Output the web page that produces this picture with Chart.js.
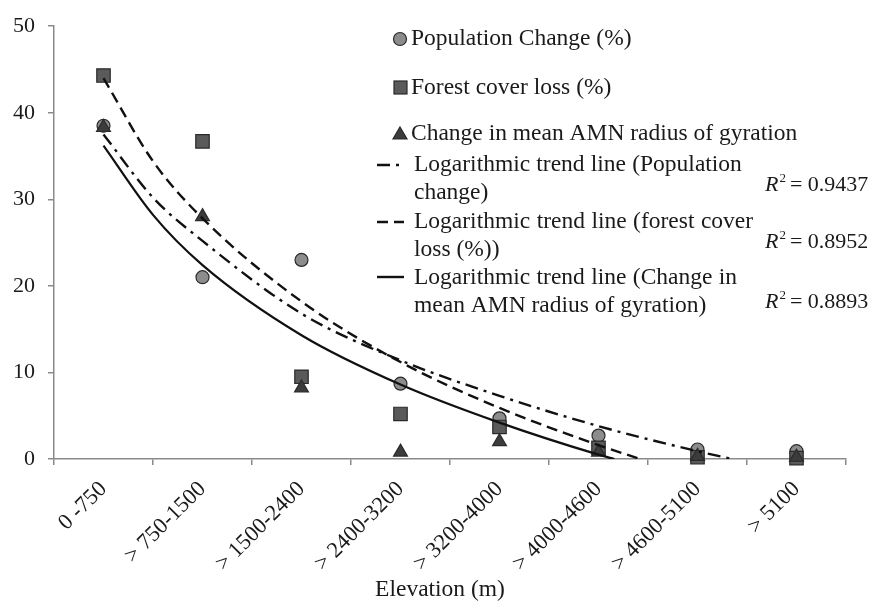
<!DOCTYPE html>
<html>
<head>
<meta charset="utf-8">
<script src="https://cdn.jsdelivr.net/npm/chart.js@4"></script>
<style>
  html, body { margin: 0; padding: 0; background: #fff; }
  #wrap { width: 869px; height: 602px; }
</style>
</head>
<body>
<div id="wrap"><canvas id="elevChart"></canvas></div>
<script>
// Elevation classes
const categories = ['0 -750', '> 750-1500', '> 1500-2400', '> 2400-3200',
    '> 3200-4000', '> 4000-4600', '> 4600-5100', '> 5100'];

// Observed values (%)
const popChange = [38.5, 21.0, 23.0, 8.7, 4.7, 2.7, 1.1, 0.9];
const forestLoss = [44.3, 36.7, 9.5, 5.2, 3.7, 1.3, 0.2, 0.1];
const amnChange = [38.3, 28.0, 8.2, 0.8, 2.0, 0.8, 0.3, 0.2];

// Trend lines (x = category position, 1..8)
const popTrendX = [1, 1.5, 2, 3, 4, 5, 6, 7, 7.35];
const popTrendY = [37.5, 30.2, 25.2, 16.8, 11.4, 7.3, 3.8, 0.9, 0];
const forestTrendX = [1, 1.5, 2, 3, 4, 5, 6, 6.42];
const forestTrendY = [44.0, 34.4, 27.8, 18.2, 11.2, 5.9, 1.6, 0];
const amnTrendX = [1, 1.5, 2, 3, 4, 5, 6, 6.16];
const amnTrendY = [36.2, 28.2, 22.4, 14.3, 8.6, 4.2, 0.5, 0];

const yTicks = [0, 10, 20, 30, 40, 50];
const r2Labels = ['0.9437', '0.8952', '0.8893'];

const serif = '"Liberation Serif", "Times New Roman", serif';
const ink = '#1a1a1a';
const axisGrey = '#8a8a8a';
const dashDot = [13, 6, 3, 6];
const dashed = [11, 6];

function toPoints(xs, ys) {
    return ys.map((y, i) => ({ x: xs[i], y: y }));
}
const catX = categories.map((c, i) => i + 1);

// Legend and axis title drawn by hand, Excel style
const sideLegend = {
    id: 'sideLegend',
    afterDraw(chart) {
        const ctx = chart.ctx;
        ctx.save();
        ctx.textBaseline = 'middle';

        // markers
        ctx.lineWidth = 1.2;
        ctx.strokeStyle = '#2a2a2a';
        ctx.fillStyle = '#8c8c8c';
        ctx.beginPath();
        ctx.arc(400, 39, 6.5, 0, Math.PI * 2);
        ctx.fill(); ctx.stroke();

        ctx.fillStyle = '#5a5a5a';
        ctx.fillRect(394, 81, 13, 13);
        ctx.strokeRect(394, 81, 13, 13);

        ctx.fillStyle = '#3c3c3c';
        ctx.beginPath();
        ctx.moveTo(400, 127); ctx.lineTo(407, 139); ctx.lineTo(393, 139); ctx.closePath();
        ctx.fill(); ctx.stroke();

        // line samples
        ctx.strokeStyle = '#111';
        ctx.lineWidth = 2.4;
        const samples = [[165, dashDot], [222, dashed], [277, []]];
        samples.forEach(s => {
            ctx.setLineDash(s[1]);
            ctx.beginPath();
            ctx.moveTo(377, s[0]); ctx.lineTo(404, s[0]);
            ctx.stroke();
        });
        ctx.setLineDash([]);

        // texts
        ctx.fillStyle = ink;
        ctx.font = '23.5px ' + serif;
        ctx.fillText('Population Change (%)', 411, 39);
        ctx.fillText('Forest cover loss (%)', 411, 88);
        ctx.fillText('Change in mean AMN radius of gyration', 411, 134);

        const para = [
            ['Logarithmic trend line (Population', 'change)', 165, 742],
            ['Logarithmic trend line (forest cover', 'loss (%))', 222, 753],
            ['Logarithmic trend line (Change in', 'mean AMN radius of gyration)', 278, 737]
        ];
        para.forEach(p => {
            // justify first line to the column edge
            ctx.wordSpacing = '0px';
            const w = ctx.measureText(p[0]).width;
            const gaps = p[0].split(' ').length - 1;
            const extra = Math.max(0, (p[3] - 414 - w) / gaps);
            ctx.wordSpacing = extra.toFixed(1) + 'px';
            ctx.fillText(p[0], 414, p[2]);
            ctx.wordSpacing = '0px';
            ctx.fillText(p[1], 414, p[2] + 28);
        });

        // R squared labels
        const r2y = [185, 242, 302];
        r2y.forEach((y, i) => {
            let x = 765;
            ctx.font = 'italic 22px ' + serif;
            ctx.fillText('R', x, y);
            x += ctx.measureText('R').width;
            ctx.font = '13px ' + serif;
            ctx.fillText('2', x + 1, y - 6);
            x += 9;
            ctx.font = '22px ' + serif;
            ctx.fillText(' = ' + r2Labels[i], x - 3, y);
        });

        // axis title
        ctx.font = '23.5px ' + serif;
        ctx.textAlign = 'center';
        ctx.fillText('Elevation (m)', 440, 590);
        ctx.restore();
    }
};

const ctx = document.getElementById('elevChart');

new Chart(ctx, {
    type: 'scatter',
    data: {
        datasets: [
            {
                type: 'line',
                label: 'Logarithmic trend line (Population change)',
                data: toPoints(popTrendX, popTrendY),
                borderColor: '#111',
                borderWidth: 2.4,
                borderDash: dashDot,
                pointRadius: 0,
                cubicInterpolationMode: 'monotone',
                fill: false,
                order: 0
            },
            {
                type: 'line',
                label: 'Logarithmic trend line (forest cover loss (%))',
                data: toPoints(forestTrendX, forestTrendY),
                borderColor: '#111',
                borderWidth: 2.4,
                borderDash: dashed,
                pointRadius: 0,
                cubicInterpolationMode: 'monotone',
                fill: false,
                order: 0
            },
            {
                type: 'line',
                label: 'Logarithmic trend line (Change in mean AMN radius of gyration)',
                data: toPoints(amnTrendX, amnTrendY),
                borderColor: '#111',
                borderWidth: 2.2,
                pointRadius: 0,
                cubicInterpolationMode: 'monotone',
                fill: false,
                order: 0
            },
            {
                label: 'Change in mean AMN radius of gyration',
                data: toPoints(catX, amnChange),
                pointStyle: 'triangle',
                pointRadius: 8,
                backgroundColor: '#3c3c3c',
                borderColor: '#2a2a2a',
                borderWidth: 1.2,
                clip: false,
                order: 1
            },
            {
                label: 'Forest cover loss (%)',
                data: toPoints(catX, forestLoss),
                pointStyle: 'rect',
                pointRadius: 9.5,
                backgroundColor: '#5a5a5a',
                borderColor: '#2a2a2a',
                borderWidth: 1.2,
                clip: false,
                order: 2
            },
            {
                label: 'Population Change (%)',
                data: toPoints(catX, popChange),
                pointStyle: 'circle',
                pointRadius: 6.5,
                backgroundColor: '#8c8c8c',
                borderColor: '#2a2a2a',
                borderWidth: 1.2,
                clip: false,
                order: 3
            }
        ]
    },
    options: {
        responsive: true,
        maintainAspectRatio: false,
        animation: false,
        layout: {
            padding: { top: 24, right: 23, left: 0, bottom: 0 }
        },
        plugins: {
            legend: { display: false },
            tooltip: { enabled: false }
        },
        scales: {
            x: {
                type: 'linear',
                display: false,
                min: 0.5,
                max: 8.5
            },
            xCat: {
                type: 'category',
                labels: categories,
                position: 'bottom',
                offset: true,
                afterFit: function(scale) { scale.height = 143; },
                grid: {
                    drawOnChartArea: false,
                    offset: true,
                    tickLength: 6,
                    color: axisGrey,
                    lineWidth: 1.5
                },
                border: { color: axisGrey, width: 1.5 },
                ticks: {
                    minRotation: 45,
                    maxRotation: 45,
                    autoSkip: false,
                    padding: 11,
                    color: ink,
                    font: { family: serif, size: 22.5 }
                }
            },
            y: {
                min: 0,
                max: 50,
                afterFit: function(scale) { scale.width = 54; },
                afterBuildTicks: function(scale) {
                    scale.ticks = yTicks.map(v => ({ value: v }));
                },
                grid: {
                    drawOnChartArea: false,
                    tickLength: 6,
                    color: axisGrey,
                    lineWidth: 1.5
                },
                border: { color: axisGrey, width: 1.5 },
                ticks: {
                    padding: 13,
                    color: ink,
                    font: { family: serif, size: 22 }
                }
            }
        }
    },
    plugins: [sideLegend]
});
</script>
</body>
</html>
